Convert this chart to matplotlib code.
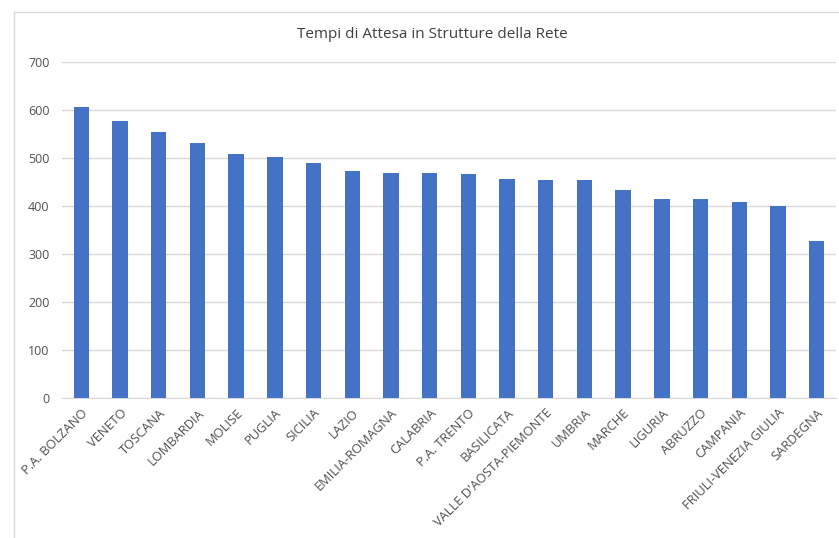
import matplotlib
matplotlib.use("Agg")
import matplotlib.pyplot as plt
from matplotlib.patches import Rectangle

regions = ["P.A. BOLZANO", "VENETO", "TOSCANA", "LOMBARDIA", "MOLISE", "PUGLIA",
           "SICILIA", "LAZIO", "EMILIA-ROMAGNA", "CALABRIA", "P.A. TRENTO",
           "BASILICATA", "VALLE D'AOSTA-PIEMONTE", "UMBRIA", "MARCHE", "LIGURIA",
           "ABRUZZO", "CAMPANIA", "FRIULI-VENEZIA GIULIA", "SARDEGNA"]
waiting = [606, 577, 555, 532, 509, 503, 489, 472, 469, 468, 466,
           456, 455, 454, 434, 415, 415, 408, 399, 328]
yticks = [0, 100, 200, 300, 400, 500, 600, 700]

plt.rcParams['font.family'] = ['Open Sans', 'DejaVu Sans']

fig = plt.figure(figsize=(8.39, 5.38), dpi=100)
ax = fig.add_axes([62 / 839, 1 - 398 / 538, 774 / 839, 336 / 538])

# chart area border
fig.patches.append(Rectangle((14 / 839, -0.01), 1.0, 1 - 12 / 538 + 0.01,
                             transform=fig.transFigure, fill=False,
                             edgecolor='#d9d9d9', linewidth=1))

x = range(len(regions))
ax.bar(x, waiting, width=0.4, color='#4472C4', zorder=3)

ax.set_xlim(-0.5, len(regions) - 0.5)
ax.set_ylim(0, 700)
ax.set_yticks(yticks)
ax.set_xticks(list(x))
ax.set_xticklabels(regions, rotation=45, ha='right', rotation_mode='anchor',
                   fontsize=9.3, color='#505050')
ax.tick_params(axis='y', labelsize=9, labelcolor='#505050', length=0, pad=9)
ax.tick_params(axis='x', length=0, pad=6)
ax.grid(axis='y', color='#d9d9d9', linewidth=1, zorder=0)
for s in ['left', 'right', 'top']:
    ax.spines[s].set_visible(False)
ax.spines['bottom'].set_color('#d9d9d9')

fig.text(432 / 839, 1 - 35 / 538, "Tempi di Attesa in Strutture della Rete",
         ha='center', va='center', fontsize=11, color='#404040')

fig.savefig("out.png", dpi=100)
